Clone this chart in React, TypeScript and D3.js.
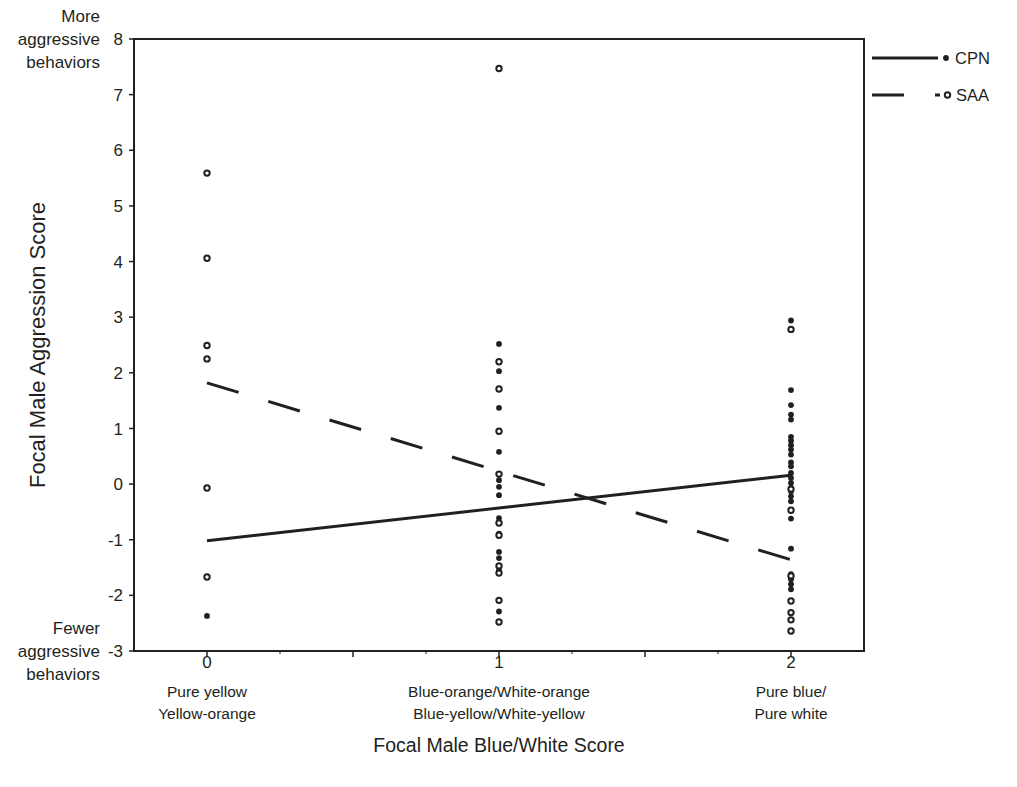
import React from "react";
import * as d3 from "d3";

// ---- data ----
const xCategories = [0, 1, 2];
const catLine1 = ["Pure yellow", "Blue-orange/White-orange", "Pure blue/"];
const catLine2 = ["Yellow-orange", "Blue-yellow/White-yellow", "Pure white"];
const yTicks = [-3, -2, -1, 0, 1, 2, 3, 4, 5, 6, 7, 8];
const xMajorTicks = [0, 0.5, 1, 1.5, 2];
const xMinorTicks = [0.25, 0.75, 1.25, 1.75];

// CPN (filled dots)
const cpnAt0 = [-2.37];
const cpnAt1 = [2.52, 2.03, 1.37, 0.58, 0.07, -0.05, -0.2, -0.61, -0.89, -1.22, -1.33, -1.55, -2.29];
const cpnAt2 = [2.94, 1.69, 1.42, 1.25, 1.16, 0.85, 0.78, 0.7, 0.62, 0.53, 0.39, 0.32, 0.2, 0.11, 0.02, -0.07, -0.13, -0.22, -0.31, -0.62, -1.16, -1.62, -1.71, -1.8, -1.89];
// SAA (open circles)
const saaAt0 = [5.59, 4.06, 2.49, 2.25, -0.07, -1.67];
const saaAt1 = [7.47, 2.2, 1.71, 0.95, 0.18, -0.7, -0.92, -1.47, -1.6, -2.09, -2.48];
const saaAt2 = [2.78, -0.09, -0.47, -1.65, -2.1, -2.31, -2.44, -2.64];

// regression line values at x = 0 and x = 2
const cpnFit = [-1.02, 0.16];
const saaFit = [1.82, -1.36];

const INK = "#231f20";
const FONT = "'Liberation Sans', Arial, sans-serif";

export default function App() {
  const W = 1017, H = 787;
  const left = 134, right = 864, top = 39, bottom = 651;
  const x = d3.scaleLinear().domain([-0.25, 2.25]).range([left, right]);
  const y = d3.scaleLinear().domain([-3, 8]).range([bottom, top]);

  const cpnPts = [
    ...cpnAt0.map((v) => [0, v]),
    ...cpnAt1.map((v) => [1, v]),
    ...cpnAt2.map((v) => [2, v]),
  ];
  const saaPts = [
    ...saaAt0.map((v) => [0, v]),
    ...saaAt1.map((v) => [1, v]),
    ...saaAt2.map((v) => [2, v]),
  ];
  const line = d3.line<number[]>().x((d) => x(d[0])).y((d) => y(d[1]));
  const cpnPath = line([[0, cpnFit[0]], [2, cpnFit[1]]]) || "";
  const saaPath = line([[0, saaFit[0]], [2, saaFit[1]]]) || "";

  return (
    <svg width={W} height={H} style={{ position: "absolute", left: 0, top: 0, background: "#fff" }} fontFamily={FONT}>
      {/* frame */}
      <rect x={left} y={top} width={right - left} height={bottom - top} fill="none" stroke={INK} strokeWidth={2} />
      {/* y ticks */}
      {yTicks.map((t) => (
        <g key={"y" + t}>
          <line x1={left - 5} x2={left} y1={y(t)} y2={y(t)} stroke={INK} strokeWidth={1.5} />
          <text x={left - 11} y={y(t)} dy="0.36em" textAnchor="end" fontSize={17} fill={INK}>{t}</text>
        </g>
      ))}
      {/* x ticks */}
      {xMajorTicks.map((t) => (
        <line key={"xm" + t} x1={x(t)} x2={x(t)} y1={bottom} y2={bottom + 6} stroke={INK} strokeWidth={1.5} />
      ))}
      {xMinorTicks.map((t) => (
        <line key={"xn" + t} x1={x(t)} x2={x(t)} y1={bottom} y2={bottom + 3} stroke={INK} strokeWidth={1} />
      ))}
      {xCategories.map((c, i) => (
        <g key={"c" + c} fill={INK} textAnchor="middle">
          <text x={x(c)} y={668} fontSize={17}>{c}</text>
          <text x={x(c)} y={697} fontSize={15.5}>{catLine1[i]}</text>
          <text x={x(c)} y={719} fontSize={15.5}>{catLine2[i]}</text>
        </g>
      ))}
      {/* end labels */}
      <g fill={INK} textAnchor="end" fontSize={17}>
        <text x={100} y={22}>More</text>
        <text x={100} y={45}>aggressive</text>
        <text x={100} y={68}>behaviors</text>
        <text x={100} y={634}>Fewer</text>
        <text x={100} y={657}>aggressive</text>
        <text x={100} y={680}>behaviors</text>
      </g>
      {/* axis titles */}
      <text transform={`translate(45,${(top + bottom) / 2}) rotate(-90)`} textAnchor="middle" fontSize={22} fill={INK}>
        Focal Male Aggression Score
      </text>
      <text x={(left + right) / 2} y={752} textAnchor="middle" fontSize={19.5} fill={INK}>
        Focal Male Blue/White Score
      </text>
      {/* regression lines */}
      <path d={cpnPath} fill="none" stroke={INK} strokeWidth={3} />
      <path d={saaPath} fill="none" stroke={INK} strokeWidth={3} strokeDasharray="33,31" />
      {/* points */}
      {cpnPts.map((p, i) => (
        <circle key={"cp" + i} cx={x(p[0])} cy={y(p[1])} r={2.9} fill={INK} />
      ))}
      {saaPts.map((p, i) => (
        <circle key={"sa" + i} cx={x(p[0])} cy={y(p[1])} r={2.7} fill="#fff" stroke={INK} strokeWidth={2} />
      ))}
      {/* legend */}
      <g>
        <line x1={872} x2={938} y1={58} y2={58} stroke={INK} strokeWidth={3} />
        <circle cx={946} cy={58} r={2.9} fill={INK} />
        <text x={955} y={58} dy="0.36em" fontSize={16.5} fill={INK}>CPN</text>
        <line x1={872} x2={940} y1={95} y2={95} stroke={INK} strokeWidth={3} strokeDasharray="32,31" />
        <circle cx={947.5} cy={95} r={2.7} fill="#fff" stroke={INK} strokeWidth={2} />
        <text x={956} y={95} dy="0.36em" fontSize={16.5} fill={INK}>SAA</text>
      </g>
    </svg>
  );
}
